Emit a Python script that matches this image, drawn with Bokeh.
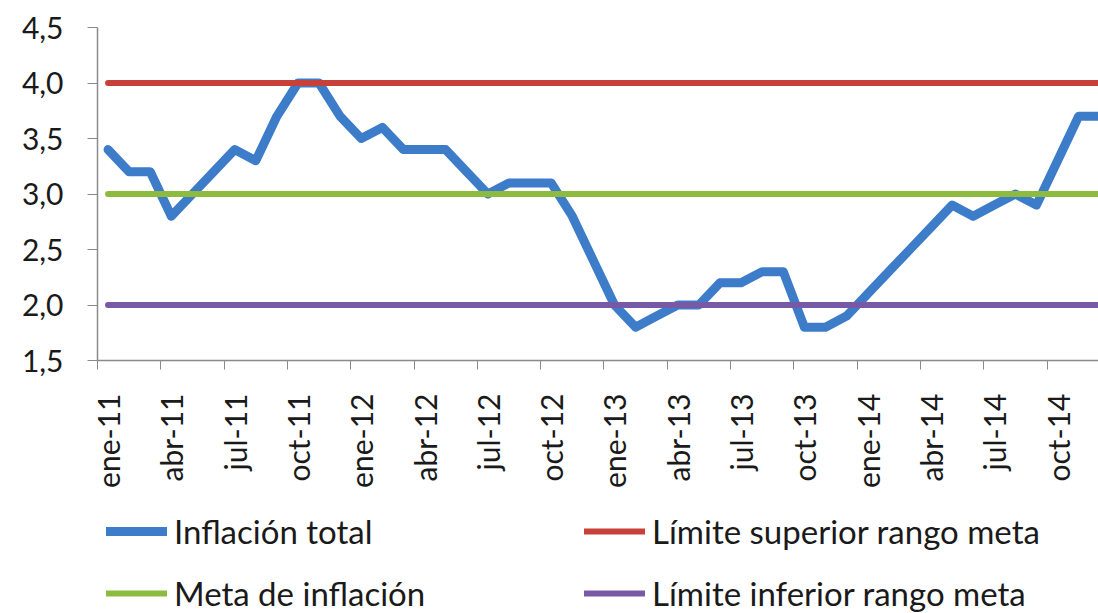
import math
from bokeh.plotting import figure
from bokeh.layouts import column
from bokeh.models import Range1d, FixedTicker, Legend, LegendItem
from bokeh.embed import file_html
from bokeh.resources import INLINE

# ---- data ----
inflacion_total = [3.4, 3.2, 3.2, 2.8, 3.0, 3.2, 3.4, 3.3, 3.7, 4.0, 4.0, 3.7,
                   3.5, 3.6, 3.4, 3.4, 3.4, 3.2, 3.0, 3.1, 3.1, 3.1, 2.8, 2.4,
                   2.0, 1.8, 1.9, 2.0, 2.0, 2.2, 2.2, 2.3, 2.3, 1.8, 1.8, 1.9,
                   2.1, 2.3, 2.5, 2.7, 2.9, 2.8, 2.9, 3.0, 2.9, 3.3, 3.7, 3.7]
limite_superior = [4.0] * 48
meta_inflacion = [3.0] * 48
limite_inferior = [2.0] * 48
month_index = list(range(48))

x_tick_labels = ["ene-11", "abr-11", "jul-11", "oct-11", "ene-12", "abr-12", "jul-12", "oct-12",
                 "ene-13", "abr-13", "jul-13", "oct-13", "ene-14", "abr-14", "jul-14", "oct-14"]
x_tick_pos = [3 * i for i in range(len(x_tick_labels))]
x_boundary_ticks = [3 * i - 0.5 for i in range(len(x_tick_labels) + 1)]
y_ticks = [1.5, 2.0, 2.5, 3.0, 3.5, 4.0, 4.5]
y_tick_labels = ["1,5", "2,0", "2,5", "3,0", "3,5", "4,0", "4,5"]

series_names = ["Inflación total", "Límite superior rango meta",
                "Meta de inflación", "Límite inferior rango meta"]

BLUE = "#3D7CC9"
RED = "#C8403A"
GREEN = "#8DBB40"
PURPLE = "#7859A6"
FONT = "Lato"
TXT = "#1a1a1a"
AXIS_COLOR = "#8A8A8A"

styles = [dict(line_color=BLUE, line_width=9, line_join="round", line_cap="round"),
          dict(line_color=RED, line_width=6, line_cap="round"),
          dict(line_color=GREEN, line_width=6, line_cap="round"),
          dict(line_color=PURPLE, line_width=6, line_cap="round")]

# ---------------- main chart ----------------
p = figure(width=1098, height=490,
           x_range=Range1d(-0.5, 46.94), y_range=Range1d(1.5, 4.5),
           output_backend="svg", toolbar_location=None,
           min_border_left=97, min_border_right=0, min_border_top=27,
           min_border_bottom=130)
p.xgrid.visible = False
p.ygrid.visible = False
p.outline_line_color = None
p.background_fill_color = "white"
p.border_fill_color = "white"

for vals, st in zip([inflacion_total, limite_superior, meta_inflacion, limite_inferior], styles):
    p.line(month_index, vals, **st)

xa = p.xaxis[0]
xa.ticker = FixedTicker(ticks=x_tick_pos, minor_ticks=x_boundary_ticks)
xa.major_label_overrides = {pos: lab for pos, lab in zip(x_tick_pos, x_tick_labels)}
xa.major_label_orientation = math.pi / 2
xa.major_tick_out = 0
xa.major_tick_in = 0
xa.minor_tick_out = 9
xa.minor_tick_in = 0
xa.minor_tick_line_color = AXIS_COLOR
xa.axis_line_color = AXIS_COLOR
xa.axis_line_width = 1.5
xa.major_label_standoff = 24
xa.major_label_text_font = FONT
xa.major_label_text_font_size = "30px"
xa.major_label_text_color = TXT

ya = p.yaxis[0]
ya.ticker = FixedTicker(ticks=y_ticks)
ya.major_label_overrides = {t: lab for t, lab in zip(y_ticks, y_tick_labels)}
ya.major_tick_out = 10
ya.major_tick_in = 0
ya.minor_tick_out = 0
ya.minor_tick_in = 0
ya.major_tick_line_color = AXIS_COLOR
ya.axis_line_color = AXIS_COLOR
ya.axis_line_width = 1.5
ya.major_label_standoff = 24
ya.major_label_text_font = FONT
ya.major_label_text_font_size = "30px"
ya.major_label_text_color = TXT

# ---------------- legend panel ----------------
pl = figure(width=1098, height=123, x_range=Range1d(0, 1), y_range=Range1d(0, 1),
            x_axis_type=None, y_axis_type=None,
            output_backend="svg", toolbar_location=None,
            min_border_left=0, min_border_right=0, min_border_top=0, min_border_bottom=0)
pl.outline_line_color = None
pl.xgrid.visible = False
pl.ygrid.visible = False
legend_renderers = [pl.line(x=[float("nan")], y=[float("nan")], **st) for st in styles]

legend = Legend(items=[LegendItem(label=n, renderers=[r])
                       for n, r in zip(series_names, legend_renderers)],
                location=(9, 0), orientation="horizontal", ncols=2)
legend.border_line_color = None
legend.background_fill_alpha = 0
legend.label_text_font = FONT
legend.label_text_font_size = "33px"
legend.label_text_color = TXT
legend.glyph_width = 61
legend.glyph_height = 30
legend.label_height = 30
legend.label_width = 388
legend.label_standoff = 7
legend.spacing = 22
legend.padding = 0
legend.margin = 0
pl.add_layout(legend, "center")

open("out.html", "w").write(file_html(column(p, pl, spacing=0), INLINE))
